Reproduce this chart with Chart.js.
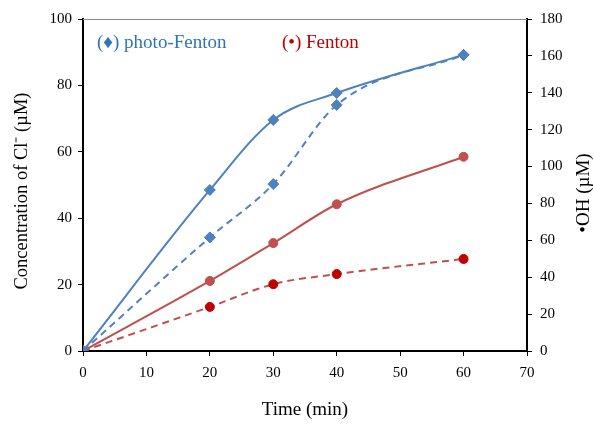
<!DOCTYPE html>
<html>
<head>
<meta charset="utf-8">
<script src="https://cdn.jsdelivr.net/npm/chart.js@4"></script>
<style>
  html, body { margin: 0; padding: 0; background: #fff; }
  #wrap { width: 594px; height: 425px; }
</style>
</head>
<body>
<div id="wrap"><canvas id="chart" width="594" height="425"></canvas></div>
<script>
// time points (min)
const times = [0, 20, 30, 40, 60];
// Cl- concentration, left axis (uM)
const clPhotoFenton = [0, 48.5, 69.6, 77.7, 89.2];
const clFenton = [0, 21.1, 32.5, 44.2, 58.5];
// OH radical, right axis (uM)
const ohPhotoFenton = [0, 61.6, 90.5, 133.4, 160.5];
const ohFenton = [0, 23.9, 36.2, 41.7, 49.9];

const xTicks = [0, 10, 20, 30, 40, 50, 60, 70];

const toXY = (ys) => ys.map((y, i) => ({ x: times[i], y: y }));

const font = 'Liberation Serif';
const blue = '#4F81BD';
const red = '#C0504D';
const darkRed = '#C00000';

// legend text, top border and axis titles drawn by hand
const extras = {
  id: 'extras',
  beforeDatasetsDraw(chart) {
    const a = chart.chartArea;
    const ctx = chart.ctx;
    ctx.save();
    ctx.strokeStyle = '#8c8c8c';
    ctx.lineWidth = 1;
    ctx.beginPath();
    ctx.moveTo(a.left, a.top + 0.5);
    ctx.lineTo(a.right, a.top + 0.5);
    ctx.stroke();
    ctx.restore();
  },
  afterDraw(chart) {
    const ctx = chart.ctx;
    ctx.save();
    ctx.font = '19px "' + font + '"';
    ctx.textBaseline = 'middle';
    ctx.fillStyle = '#2E75B6';
    ctx.fillText('(\u2666) photo-Fenton', 97, 43);
    ctx.fillStyle = darkRed;
    ctx.fillText('(\u2022) Fenton', 282, 43);
    ctx.restore();

    ctx.save();
    ctx.fillStyle = '#000';
    ctx.font = '18.5px "' + font + '"';
    ctx.textAlign = 'center';
    ctx.textBaseline = 'middle';
    ctx.translate(22, 191);
    ctx.rotate(-Math.PI / 2);
    ctx.fillText('Concentration of Cl\u207B (\u00B5M)', 0, 0);
    ctx.restore();

    ctx.save();
    ctx.fillStyle = '#000';
    ctx.font = '19px "' + font + '"';
    ctx.textAlign = 'center';
    ctx.textBaseline = 'middle';
    ctx.translate(584, 193);
    ctx.rotate(-Math.PI / 2);
    ctx.fillText('\u2022OH (\u00B5M)', 0, 0);
    ctx.restore();
  }
};

const tickFont = { family: font, size: 15 };

function series(label, ys, axis, color, fill, style, dashed) {
  return {
    label: label,
    data: toXY(ys),
    yAxisID: axis,
    borderColor: color,
    backgroundColor: fill,
    pointBorderColor: fill,
    pointBackgroundColor: fill,
    borderWidth: 2,
    borderDash: dashed ? [7, 5] : [],
    pointStyle: style,
    pointRadius: style === 'rectRot' ? 5.5 : 4.5,
    pointBorderWidth: 1,
    tension: 0.4,
    cubicInterpolationMode: 'monotone'
  };
}

new Chart(document.getElementById('chart').getContext('2d'), {
  type: 'line',
  data: {
    datasets: [
      series('Cl- photo-Fenton', clPhotoFenton, 'y', blue, blue, 'rectRot', false),
      series('OH photo-Fenton', ohPhotoFenton, 'y2', blue, blue, 'rectRot', true),
      series('Cl- Fenton', clFenton, 'y', red, red, 'circle', false),
      series('OH Fenton', ohFenton, 'y2', red, darkRed, 'circle', true)
    ]
  },
  options: {
    responsive: false,
    animation: false,
    layout: { padding: { top: 19, left: 0, right: 0, bottom: 0 } },
    plugins: {
      legend: { display: false },
      tooltip: { enabled: false }
    },
    scales: {
      x: {
        type: 'linear',
        min: 0,
        max: 70,
        afterBuildTicks: (s) => { s.ticks = xTicks.map(v => ({ value: v })); },
        afterFit: (s) => { s.height = 74; },
        ticks: { color: '#000', font: tickFont, padding: 8 },
        grid: { drawOnChartArea: false, drawTicks: true, tickLength: 5, color: '#000' },
        border: { display: true, color: '#000', width: 2 },
        title: { display: true, text: 'Time (min)', color: '#000', font: { family: font, size: 19 }, padding: { top: 14 } }
      },
      y: {
        position: 'left',
        min: 0,
        max: 100,
        ticks: { stepSize: 20, color: '#000', font: tickFont, padding: 6 },
        afterFit: (s) => { s.width = 83; },
        grid: { drawOnChartArea: false, drawTicks: true, tickLength: 5, color: '#000' },
        border: { display: true, color: '#000', width: 2 }
      },
      y2: {
        position: 'right',
        min: 0,
        max: 180,
        ticks: { stepSize: 20, color: '#000', font: tickFont, padding: 8 },
        afterFit: (s) => { s.width = 67; },
        grid: { drawOnChartArea: false, drawTicks: true, tickLength: 5, color: '#000' },
        border: { display: true, color: '#000', width: 2 }
      }
    }
  },
  plugins: [extras]
});
</script>
</body>
</html>
